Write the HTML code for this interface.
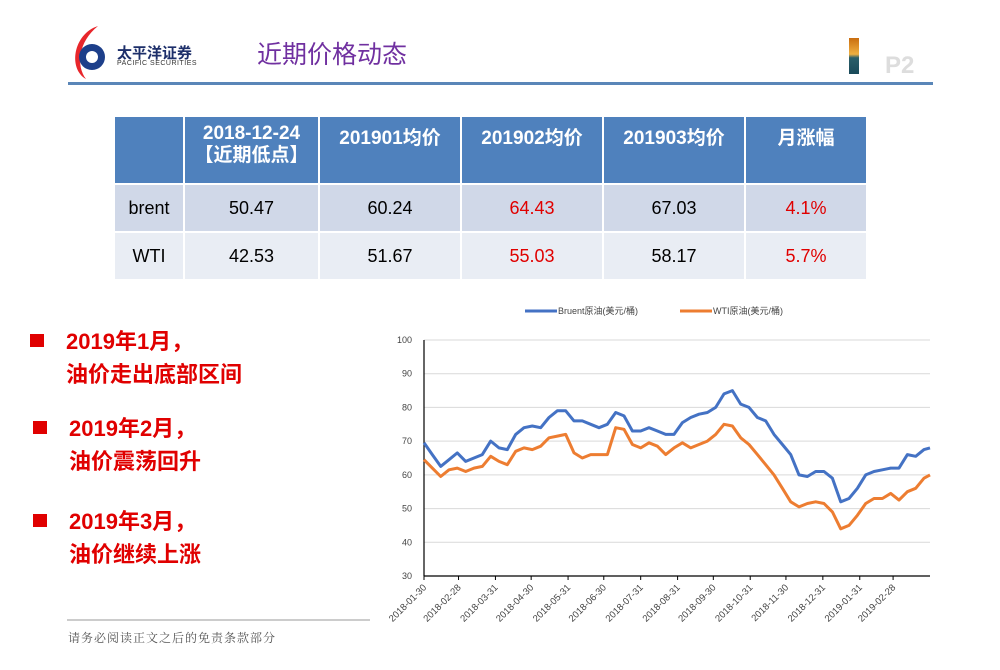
<!DOCTYPE html>
<html><head><meta charset="utf-8"><style>
body{margin:0;width:1000px;height:670px;position:relative;background:#fff;font-family:"Liberation Sans","Noto Sans CJK SC",sans-serif;overflow:hidden}
.abs{position:absolute}
table{position:absolute;left:113px;top:115px;border-collapse:collapse}
td{border:2px solid #fff;text-align:center;font-size:18px;color:#000;padding:0}
tr.h td{background:#4f81bd;color:#fff;font-weight:bold;height:60px;vertical-align:top;padding-top:6px;font-size:19px}
tr.r1 td{background:#d0d8e8;height:46px}
tr.r2 td{background:#e9edf4;height:46px}
.red{color:#e00000}
.bul{position:absolute;color:#e00000;font-weight:bold;font-size:22px;line-height:33px;font-family:"Liberation Sans","Noto Sans CJK SC",sans-serif}
.bul i{display:inline-block;width:14px;height:13px;background:#e00000;margin-right:22px;vertical-align:2px}
</style></head><body>
<div class="abs" style="left:68px;top:24px;width:40px;height:55px">
<svg width="40" height="55"><path d="M30 2 C5 10 0 45 18 55 C8 42 10 18 30 2Z" fill="#e8262b"/><circle cx="24" cy="33" r="13" fill="#1d3f8a"/><circle cx="24" cy="33" r="6" fill="#fff"/></svg></div>
<div class="abs" style="left:117px;top:42px;font-size:15px;font-weight:bold;color:#1d2f6a">太平洋证券</div>
<div class="abs" style="left:117px;top:60px;font-size:7px;color:#333;letter-spacing:0.5px">PACIFIC SECURITIES</div>
<div class="abs" style="left:257px;top:35px;font-size:25px;color:#7030a0">近期价格动态</div>
<div class="abs" style="left:849px;top:38px;width:10px;height:36px;background:linear-gradient(#c96d10,#f0b040 45%,#2b5f6a 55%,#1a4a5a)"></div>
<div class="abs" style="left:885px;top:52px;font-size:24px;font-weight:bold;color:#ddd">P2</div>
<div class="abs" style="left:68px;top:82px;width:865px;height:3px;background:#5a86b8"></div>

<table>
<tr class="h"><td style="width:68px"></td><td style="width:133px;line-height:22px">2018-12-24<br>【近期低点】</td><td style="width:140px">201901均价</td><td style="width:140px">201902均价</td><td style="width:140px">201903均价</td><td style="width:120px">月涨幅</td></tr>
<tr class="r1"><td>brent</td><td>50.47</td><td>60.24</td><td class="red">64.43</td><td>67.03</td><td class="red">4.1%</td></tr>
<tr class="r2"><td>WTI</td><td>42.53</td><td>51.67</td><td class="red">55.03</td><td>58.17</td><td class="red">5.7%</td></tr>
</table>

<div class="bul" style="left:30px;top:325px"><i></i>2019年1月，<br><span style="margin-left:36px">油价走出底部区间</span></div>
<div class="bul" style="left:33px;top:412px"><i></i>2019年2月，<br><span style="margin-left:36px">油价震荡回升</span></div>
<div class="bul" style="left:33px;top:505px"><i></i>2019年3月，<br><span style="margin-left:36px">油价继续上涨</span></div>
<div class="abs" style="left:67px;top:619px;width:303px;height:2px;background:#ccc"></div>
<div class="abs" style="left:68px;top:629px;font-size:12px;color:#555;letter-spacing:1px;font-family:'Liberation Serif','Noto Serif CJK SC',serif">请务必阅读正文之后的免责条款部分</div>

<svg id="chart" class="abs" style="left:0;top:0" width="1000" height="670"></svg>
<script>
const dayIdx=[0,7,14,21,28,35,42,49,56,63,70,77,84,91,98,105,112,119,126,133,140,147,154,161,168,175,182,189,196,203,210,217,224,231,238,245,252,259,266,273,280,287,294,301,308,315,322,329,336,343,350,357,364,371,378,385,392,399,406,413,420,425];
const brent=[69.5,66,62.5,64.5,66.5,64,65,66,70,68,67.5,72,74,74.5,74,77,79,79,76,76,75,74,75,78.5,77.5,73,73,74,73,72,72,75.5,77,78,78.5,80,84,85,81,80,77,76,72,69,66,60,59.5,61,61,59,52,53,56,60,61,61.5,62,62,66,65.5,67.5,68];
const wti=[64.5,62,59.5,61.5,62,61,62,62.5,65.5,64,63,67,68,67.5,68.5,71,71.5,72,66.5,65,66,66,66,74,73.5,69,68,69.5,68.5,66,68,69.5,68,69,70,72,75,74.5,71,69,66,63,60,56,52,50.5,51.5,52,51.5,49,44,45,48,51.5,53,53,54.5,52.5,55,56,59,60];
const yTicks=[30,40,50,60,70,80,90,100];
const xTickLabels=["2018-01-30","2018-02-28","2018-03-31","2018-04-30","2018-05-31","2018-06-30","2018-07-31","2018-08-31","2018-09-30","2018-10-31","2018-11-30","2018-12-31","2019-01-31","2019-02-28"];
const xTickDays=[0,29,60,90,121,151,182,213,243,274,304,335,366,394];
const NS='http://www.w3.org/2000/svg';
const svg=document.getElementById('chart');
const L=424,R=930,T=340,B=576,maxDay=425;
const xs=d=>L+(R-L)*d/maxDay;
const ys=v=>B-(B-T)*(v-30)/70;
function el(tag,attrs,parent){const e=document.createElementNS(NS,tag);for(const k in attrs)e.setAttribute(k,attrs[k]);(parent||svg).appendChild(e);return e;}
yTicks.forEach(v=>{
  const g=el('line',{x1:L,x2:R,y1:ys(v),y2:ys(v),stroke:v===30?'#000':'#d9d9d9','stroke-width':v===30?1.2:1});
  
  
  const t=el('text',{x:L-12,y:ys(v)+3,'font-size':9,'text-anchor':'end',fill:'#444'});
  t.textContent=v;
  
  
});
const ax=el('line',{x1:L,x2:L,y1:T,y2:B,stroke:'#000','stroke-width':1.2});


xTickLabels.forEach((lab,i)=>{
  const x=xs(xTickDays[i]);
  el('line',{x1:x,x2:x,y1:B,y2:B+4,stroke:'#000'});
  const t=el('text',{x:x+3,y:B+12,'font-size':9.5,'text-anchor':'end',fill:'#444',transform:`rotate(-45 ${x+3} ${B+12})`});
  t.textContent=lab;
  
  
});
function line(vals,color,name){
  const d=vals.map((v,i)=>(i?'L':'M')+xs(dayIdx[i]).toFixed(1)+' '+ys(v).toFixed(1)).join(' ');
  const p=el('path',{d:d,fill:'none',stroke:color,'stroke-width':3,'stroke-linejoin':'round'});
  
  
}
line(wti,'#ed7d31','wti-line');
line(brent,'#4472c4','brent-line');
[[525,'#4472c4','Bruent原油(美元/桶)','legend-brent'],[680,'#ed7d31','WTI原油(美元/桶)','legend-wti']].forEach(a=>{
  const g=el('g',{});
  
  
  el('line',{x1:a[0],x2:a[0]+32,y1:311,y2:311,stroke:a[1],'stroke-width':3},g);
  const t=el('text',{x:a[0]+33,y:314,'font-size':9,fill:'#444'},g);
  t.textContent=a[2];
});
</script>
</body></html>
